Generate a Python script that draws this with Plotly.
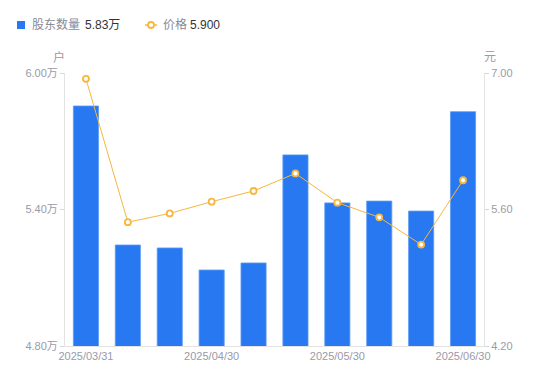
import plotly.graph_objects as go

dates = ["2025/03/31", "2025/04/10", "2025/04/20", "2025/04/30", "2025/05/09",
         "2025/05/20", "2025/05/30", "2025/06/10", "2025/06/20", "2025/06/30"]
holders = [5.855, 5.244, 5.231, 5.134, 5.165, 5.640, 5.429, 5.437, 5.393, 5.83]
price = [6.94, 5.47, 5.56, 5.68, 5.79, 5.97, 5.67, 5.52, 5.24, 5.90]
x_ticks = ["2025/03/31", "2025/04/30", "2025/05/30", "2025/06/30"]
left_ticks = [4.8, 5.4, 6.0]
left_text = ["4.80万", "5.40万", "6.00万"]
right_ticks = [4.2, 5.6, 7.0]
right_text = ["4.20", "5.60", "7.00"]

FONT = "Liberation Sans, Noto Sans CJK SC, sans-serif"
BLUE = "#2878f2"
ORANGE = "#f7b73e"
GRAY = "#9a9aa8"

L, R, T, B = 65, 66, 73, 35
W, H = 550, 381
PW, PH = W - L - R, H - T - B


def px(x):
    return (x - L) / PW


def py(y):
    return 1 + (T - y) / PH


fig = go.Figure()
fig.add_trace(go.Bar(
    x=dates, y=holders, name="股东数量",
    marker=dict(color=BLUE, line=dict(color="#5c9af6", width=0.8)),
    width=0.6, yaxis="y",
))
fig.add_trace(go.Scatter(
    x=dates, y=price, name="价格",
    mode="lines+markers", yaxis="y2",
    line=dict(color=ORANGE, width=1),
    marker=dict(symbol="circle", size=6, color="white", line=dict(color=ORANGE, width=1.8)),
))

ann = [
    dict(text="户", x=px(59), y=py(57), xanchor="center"),
    dict(text="元", x=px(490), y=py(57), xanchor="center"),
    dict(text="股东数量", x=px(30), y=py(25), xanchor="left", font=dict(size=12, color="#8a8a96")),
    dict(text="5.83万", x=px(83), y=py(25), xanchor="left", font=dict(size=12, color="#333")),
    dict(text="价格", x=px(161), y=py(25), xanchor="left", font=dict(size=12, color="#8a8a96")),
    dict(text="5.900", x=px(188), y=py(25), xanchor="left", font=dict(size=12, color="#333")),
]
for a in ann:
    a.setdefault("font", dict(size=12, color=GRAY))
    a.update(xref="paper", yref="paper", yanchor="middle", showarrow=False)

shapes = [
    dict(type="rect", xref="paper", yref="paper", x0=px(17), x1=px(25), y0=py(21), y1=py(29),
         fillcolor=BLUE, line=dict(width=0)),
    dict(type="line", xref="paper", yref="paper", x0=px(145), x1=px(157), y0=py(25), y1=py(25),
         line=dict(color=ORANGE, width=1.5)),
    dict(type="circle", xref="paper", yref="paper", x0=px(148), x1=px(154), y0=py(22), y1=py(28),
         fillcolor="white", line=dict(color=ORANGE, width=1.8)),
]

fig.update_layout(
    width=W, height=H,
    margin=dict(l=L, r=R, t=T, b=B),
    paper_bgcolor="white", plot_bgcolor="white",
    font=dict(family=FONT, size=11, color=GRAY),
    showlegend=False,
    bargap=0.4,
    xaxis=dict(type="category", tickmode="array", tickvals=x_ticks, ticktext=x_ticks,
               range=[-0.5, len(dates) - 0.5],
               showline=True, linecolor="#e3e3e3", linewidth=1, ticks="",
               showgrid=False, tickfont=dict(size=11, color=GRAY), zeroline=False,
               automargin=False),
    yaxis=dict(range=[4.8, 6.0], tickmode="array", tickvals=left_ticks, ticktext=left_text,
               showline=True, linecolor="#e3e3e3", linewidth=1,
               ticks="outside", ticklen=4, tickcolor="#d6d6d6",
               showgrid=False, zeroline=False, tickfont=dict(size=11, color=GRAY),
               automargin=False),
    yaxis2=dict(range=[4.2, 7.0], tickmode="array", tickvals=right_ticks, ticktext=right_text,
                overlaying="y", side="right",
                showline=True, linecolor="#e3e3e3", linewidth=1,
                ticks="outside", ticklen=4, tickcolor="#d6d6d6",
                showgrid=False, zeroline=False, tickfont=dict(size=11, color=GRAY),
                automargin=False),
    annotations=ann,
    shapes=shapes,
)

fig.write_html("out.html", config={"displayModeBar": False},
               post_script="document.body.style.margin='0';")
